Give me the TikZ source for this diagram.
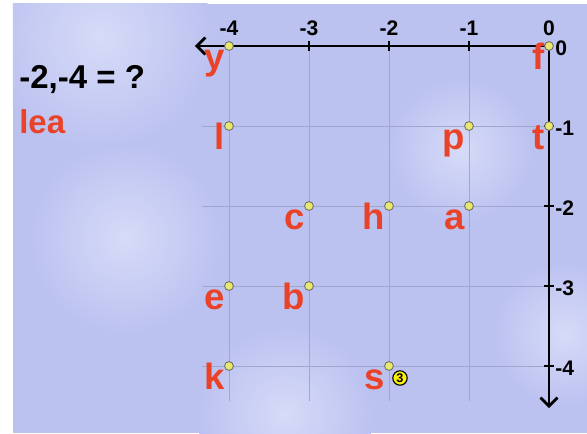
\documentclass[tikz,border=0pt]{standalone}
\usepackage{fontspec}
\setmainfont{Liberation Sans}
\usetikzlibrary{arrows.meta}

\definecolor{bgblue}{RGB}{188,194,240}
\definecolor{bglight}{RGB}{214,219,248}
\definecolor{lettred}{RGB}{234,66,40}
\definecolor{dotyellow}{RGB}{232,232,110}
\definecolor{gridgray}{RGB}{160,166,204}

\tikzset{
  dot/.style={circle,fill=dotyellow,draw=gray!70!black,line width=.5pt,
    inner sep=0pt,minimum size=.22cm},
  letter/.style={text=lettred,anchor=base east,inner sep=0pt,
    font=\fontsize{26}{26}\selectfont\bfseries},
  ticklabel/.style={inner sep=0pt,font=\fontsize{15}{15}\selectfont\bfseries},
  axis/.style={line width=2pt,-{Straight Barb[length=6pt,width=12pt]}},
  gridline/.style={gridgray,line width=.5pt},
  cloud/.style={inner color=bglight,outer color=bgblue}
}

\begin{document}
\begin{tikzpicture}[x=2cm,y=2cm]
  \useasboundingbox (-6.8625,.575) rectangle (.475,-4.8375);
  % background
  \begin{scope}
    \clip (-6.7,.525) rectangle (.475,-4.8375);
    \fill[bgblue] (-6.7,.525) rectangle (.475,-4.8375);
    \shade[cloud] (-5.6,.1) circle (1.4);
    \shade[cloud] (-5.3,-2.4) circle (1.2);
    \shade[cloud] (-3.3,-4.6) circle (1.1);
    \shade[cloud] (-1.1,-1.3) circle (.9);
    \shade[cloud] (.2,-3.6) circle (.9);
  \end{scope}

  % grid
  \foreach \x in {-4,...,-1}
    \draw[gridline] (\x,0) -- (\x,-4.44);
  \foreach \y in {-1,...,-4}
    \draw[gridline] (-4.34,\y) -- (0,\y);

  % axes
  \coordinate (o) at (0,0);
  \coordinate (xend) at (-4.425,0);
  \coordinate (yend) at (0,-4.525);
  \draw[axis] (o) -- (xend);
  \draw[axis] (o) -- (yend);
  \foreach \x in {-3,...,-1}
    \draw[line width=1.2pt] (\x,.0625) -- (\x,-.0625);
  \foreach \y in {-1,...,-4}
    \draw[line width=1.2pt] (-.0625,\y) -- (.0625,\y);
  \foreach \x in {-4,...,0}
    \node[ticklabel,anchor=base] (xl\x) at (\x,.125) {\x};
  \foreach \y in {0,...,-4}
    \node[ticklabel,anchor=west,yshift=-.05cm] (yl\y) at (.075,\y) {\y};

  % question
  \node[anchor=base west,inner sep=0pt,font=\fontsize{23.5}{23.5}\selectfont\bfseries]
    (quest) at (-6.625,-.525) {-2,-4 = ?};
  \node[anchor=base west,inner sep=0pt,text=lettred,
    font=\fontsize{23.5}{23.5}\selectfont\bfseries]
    (answer) at (-6.625,-1.0875) {lea};

  % points
  \foreach \x/\y/\c in {0/0/f,-4/0/y,-4/-1/l,-1/-1/p,0/-1/t,-3/-2/c,-2/-2/h,
      -1/-2/a,-4/-3/e,-3/-3/b,-4/-4/k,-2/-4/s} {
    \node[dot] (pt-\c) at (\x,\y) {};
    \node[letter,xshift=-.1cm,yshift=-.58cm] (lb-\c) at (pt-\c) {\c};
  }
  \node[circle,fill=yellow,draw=black,line width=.8pt,inner sep=0pt,
    minimum size=.36cm,font=\fontsize{9}{9}\selectfont\bfseries]
    (mark) at (-1.8625,-4.15) {3};
\end{tikzpicture}
\end{document}
